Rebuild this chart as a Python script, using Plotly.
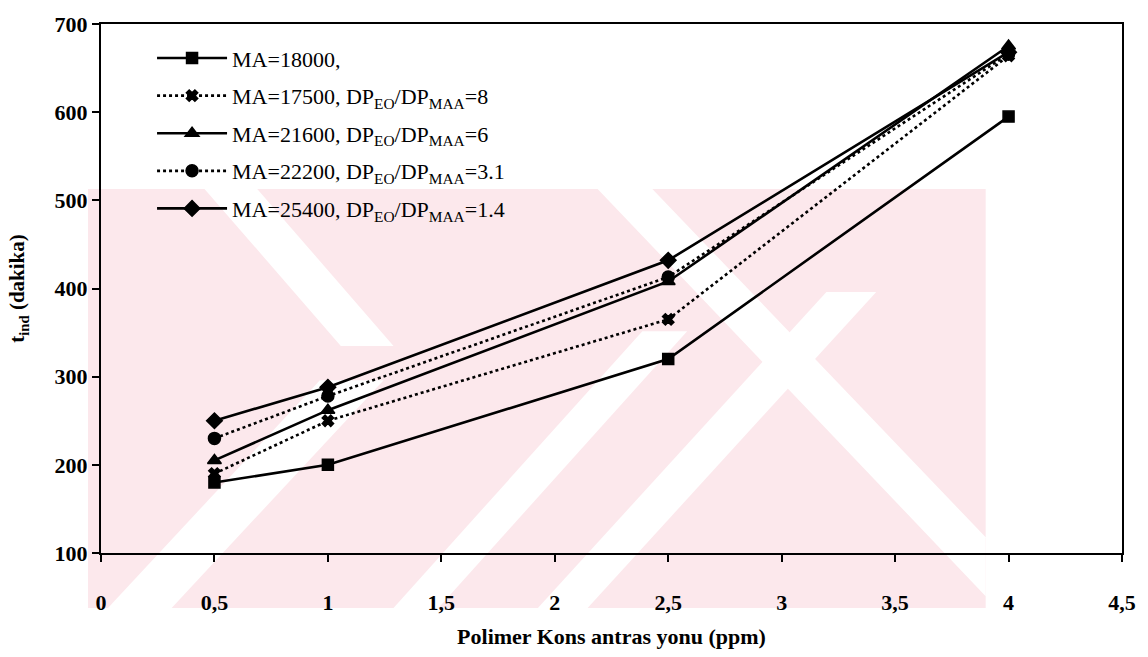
import plotly.graph_objects as go

# ---- data ----
x_ppm = [0.5, 1, 2.5, 4]
ma18000 = [180, 200, 320, 595]
ma17500 = [190, 250, 365, 664]
ma21600 = [205, 262, 408, 675]
ma22200 = [230, 278, 413, 666]
ma25400 = [250, 288, 432, 668]

names = [
    "MA=18000,",
    "MA=17500, DP<sub>EO</sub>/DP<sub>MAA</sub>=8",
    "MA=21600, DP<sub>EO</sub>/DP<sub>MAA</sub>=6",
    "MA=22200, DP<sub>EO</sub>/DP<sub>MAA</sub>=3.1",
    "MA=25400, DP<sub>EO</sub>/DP<sub>MAA</sub>=1.4",
]
series = [ma18000, ma17500, ma21600, ma22200, ma25400]
symbols = ["square", "x", "triangle-up", "circle", "diamond"]
dashes = ["solid", "dot", "solid", "dot", "solid"]
msizes = [11, 10, 12, 12, 12]
draw_order = [4, 3, 0, 1, 2]

x_ticks = [0, 0.5, 1, 1.5, 2, 2.5, 3, 3.5, 4, 4.5]
x_labels = ["0", "0,5", "1", "1,5", "2", "2,5", "3", "3,5", "4", "4,5"]
y_ticks = [100, 200, 300, 400, 500, 600, 700]
y_labels = ["100", "200", "300", "400", "500", "600", "700"]

SERIF = "Liberation Serif"

W, H = 1148, 657
L, R, T, B = 101, 21, 17, 101
pw, ph = W - L - R, H - T - B

def px(xp, yp):
    return (xp - L) / pw, (H - B - yp) / ph

def poly(pts):
    s = ""
    for i, (a, b) in enumerate(pts):
        u, v = px(a, b)
        s += ("M" if i == 0 else "L") + f"{u:.4f},{v:.4f} "
    return s + "Z"

fig = go.Figure()
for i in draw_order:
    fig.add_trace(go.Scatter(
        x=x_ppm, y=series[i], name=names[i], mode="lines+markers",
        line=dict(color="black", width=2.6, dash=dashes[i]),
        marker=dict(symbol=symbols[i], size=msizes[i], color="black",
                    line=dict(color="black", width=1.5)),
        legendgroup=names[i], legendrank=i + 1,
    ))

pink = "rgba(252,232,236,1)"
white = "white"
bands = [
    [(88, 185), (990, 185), (990, 612), (88, 612)],
]
whites = [
    [(205, 185), (258, 185), (395, 345), (342, 345)],
    [(108, 612), (172, 612), (385, 380), (321, 380)],
    [(395, 612), (440, 612), (690, 330), (645, 330)],
    [(540, 612), (590, 612), (880, 290), (830, 290)],
    [(600, 185), (655, 185), (990, 540), (990, 600)],
]
shapes = [dict(type="path", path=poly(p), xref="paper", yref="paper",
               fillcolor=pink, line=dict(width=0), layer="below") for p in bands]
shapes += [dict(type="path", path=poly(p), xref="paper", yref="paper",
                fillcolor=white, line=dict(width=0), layer="below") for p in whites]

fig.update_layout(
    width=W, height=H,
    margin=dict(l=L, r=R, t=T, b=B),
    paper_bgcolor="white", plot_bgcolor="rgba(0,0,0,0)",
    font=dict(family=SERIF, color="black", size=18),
    shapes=shapes,
    showlegend=True,
    legend=dict(x=0.05, y=0.975, xanchor="left", yanchor="top",
                bgcolor="rgba(0,0,0,0)", borderwidth=0,
                font=dict(family=SERIF, size=22, color="black"),
                tracegroupgap=6, itemwidth=70),
    xaxis=dict(range=[0, 4.5], tickvals=x_ticks, ticktext=[f"<b>{t}</b>" for t in x_labels],
               showgrid=False, zeroline=False,
               showline=True, linecolor="black", linewidth=2, mirror=True,
               ticks="outside", ticklen=7, tickwidth=2, tickcolor="black",
               ticklabelstandoff=22,
               tickfont=dict(family=SERIF, size=22, color="black"),
               title=dict(text="<b>Polimer Kons antras yonu (ppm)</b>",
                          font=dict(family=SERIF, size=22, color="black"), standoff=14)),
    yaxis=dict(range=[100, 700], tickvals=y_ticks, ticktext=[f"<b>{t}</b>" for t in y_labels],
               showgrid=False, zeroline=False,
               showline=True, linecolor="black", linewidth=2, mirror=True,
               ticks="outside", ticklen=7, tickwidth=2, tickcolor="black",
               tickfont=dict(family=SERIF, size=22, color="black"),
               title=dict(text="<b>t<sub>ind</sub> (dakika)</b>",
                          font=dict(family=SERIF, size=21, color="black"), standoff=24)),
)

fig.write_html("out.html")
